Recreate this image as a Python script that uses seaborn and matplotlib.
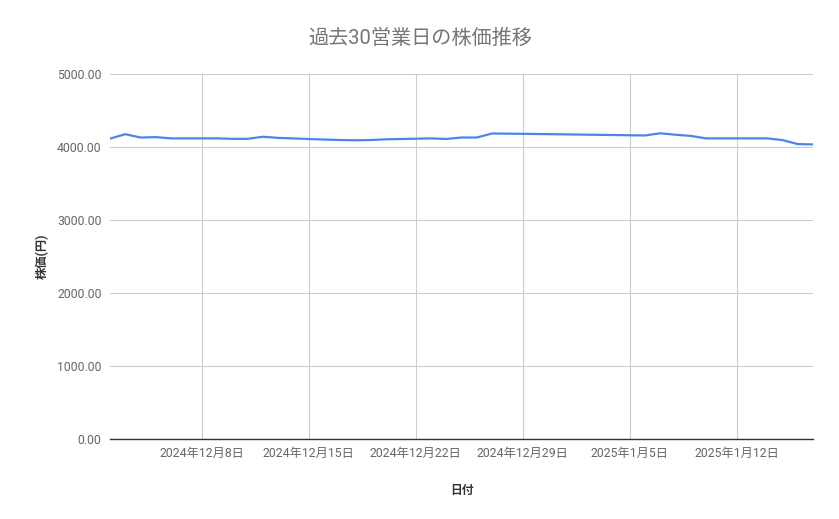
import matplotlib
matplotlib.use("Agg")
import matplotlib.pyplot as plt
import matplotlib.dates as mdates
import matplotlib.ticker as mticker
import seaborn as sns
import pandas as pd

dates = ["2024-12-02", "2024-12-03", "2024-12-04", "2024-12-05", "2024-12-06",
         "2024-12-09", "2024-12-10", "2024-12-11", "2024-12-12", "2024-12-13",
         "2024-12-16", "2024-12-17", "2024-12-18", "2024-12-19", "2024-12-20",
         "2024-12-23", "2024-12-24", "2024-12-25", "2024-12-26", "2024-12-27",
         "2024-12-30", "2025-01-06", "2025-01-07", "2025-01-08", "2025-01-09",
         "2025-01-10", "2025-01-14", "2025-01-15", "2025-01-16", "2025-01-17"]
prices = [4115, 4175, 4130, 4135, 4118,
          4118, 4112, 4112, 4140, 4125,
          4102, 4096, 4092, 4095, 4105,
          4118, 4110, 4130, 4130, 4185,
          4178, 4158, 4188, 4168, 4152,
          4118, 4118, 4095, 4040, 4035]
tick_dates = ["2024-12-08", "2024-12-15", "2024-12-22", "2024-12-29", "2025-01-05", "2025-01-12"]
tick_labels = ["2024年12月8日", "2024年12月15日", "2024年12月22日", "2024年12月29日", "2025年1月5日", "2025年1月12日"]
y_ticks = [0, 1000, 2000, 3000, 4000, 5000]

title = "過去30営業日の株価推移"
xlabel = "日付"
ylabel = "株価(円)"

sns.set_theme(style="white")
plt.rcParams["font.family"] = ["Roboto", "Noto Sans CJK JP", "DejaVu Sans"]

df = pd.DataFrame({"date": pd.to_datetime(dates), "price": prices})

fig = plt.figure(figsize=(8.39, 5.19), dpi=100)
ax = fig.add_axes([110/839, 1-439/519, (813-110)/839, (439-74)/519])

sns.lineplot(data=df, x="date", y="price", ax=ax, color="#4a86e8", linewidth=1.6)

ax.set_xlim(pd.Timestamp("2024-12-02"), pd.Timestamp("2025-01-17"))
ax.set_ylim(0, 5000)
ax.set_xticks(pd.to_datetime(tick_dates))
ax.set_xticklabels(tick_labels)
ax.set_yticks(y_ticks)
ax.yaxis.set_major_formatter(mticker.FormatStrFormatter("%.2f"))

ax.grid(True, color="#cccccc", linewidth=0.8)
ax.set_axisbelow(True)
for s in ["top", "right", "left"]:
    ax.spines[s].set_visible(False)
ax.spines["bottom"].set_color("#333333")
ax.spines["bottom"].set_linewidth(1.0)
ax.spines["bottom"].set_zorder(3)
ax.tick_params(axis="both", length=0, labelsize=8.8, labelcolor="#666666")
ax.tick_params(axis="x", pad=6)
ax.tick_params(axis="y", pad=6)

ax.set_xlabel(xlabel, fontsize=8.5, color="#333333", labelpad=17, fontweight="bold")
ax.set_ylabel(ylabel, fontsize=8.8, color="#333333", labelpad=6, fontweight="bold")
fig.text(420/839, 1-38/519, title, ha="center", va="center", fontsize=14.5, color="#757575")

fig.savefig("out.png", dpi=100, facecolor="white")
